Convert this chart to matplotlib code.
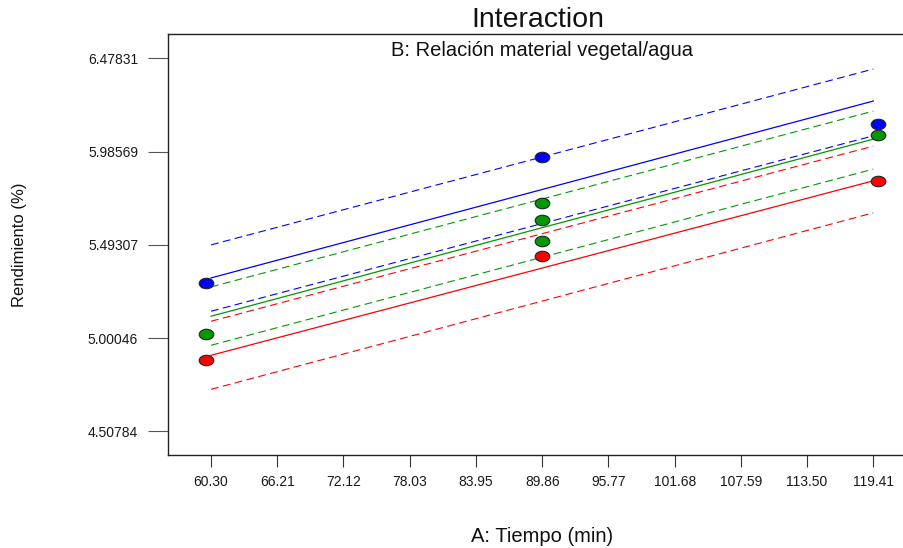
import matplotlib
matplotlib.use('Agg')
import matplotlib.pyplot as plt
from matplotlib.path import Path
from matplotlib.transforms import Affine2D, ScaledTranslation

plt.rcParams['font.family'] = ['Liberation Sans', 'DejaVu Sans']

# axis ticks
x_ticks = [60.30, 66.21, 72.12, 78.03, 83.95, 89.86, 95.77, 101.68, 107.59, 113.50, 119.41]
y_ticks = [4.50784, 5.00046, 5.49307, 5.98569, 6.47831]

# predicted lines at the ends of A (low CI, mean, high CI) for each level of B
x_ends = [60.30, 119.41]
blue_mean = [5.3181, 6.2525]
blue_lo = [5.1420, 6.0690]
blue_hi = [5.4926, 6.4217]
green_mean = [5.1156, 6.0515]
green_lo = [4.9622, 5.8929]
green_hi = [5.2705, 6.1996]
red_mean = [4.9093, 5.8310]
red_lo = [4.7295, 5.6618]
red_hi = [5.0891, 6.0145]

# design points
blue_px = [60.30, 89.86, 119.41]
blue_py = [5.2900, 5.9564, 6.1309]
green_px = [60.30, 89.86, 89.86, 89.86, 119.41]
green_py = [5.0203, 5.7131, 5.6232, 5.5122, 6.0710]
red_px = [60.30, 89.86, 119.41]
red_py = [4.8828, 5.4328, 5.8310]

c_blue = '#0000ff'
c_green = '#009a00'
c_red = '#ff0000'

fig = plt.figure(figsize=(9.04, 5.48), dpi=100)
ax = fig.add_axes([168 / 904, 1 - 455 / 548, (904 - 168) / 904, (455 - 34.3) / 548])
ax.set_xlim(56.46, 122.15)
ax.set_ylim(4.3825, 6.6052)

dash = (0, (7, 4))
for col, lo, mean, hi in [(c_blue, blue_lo, blue_mean, blue_hi),
                          (c_green, green_lo, green_mean, green_hi),
                          (c_red, red_lo, red_mean, red_hi)]:
    ax.plot(x_ends, hi, color=col, lw=0.8, ls=dash)
    ax.plot(x_ends, mean, color=col, lw=0.9)
    ax.plot(x_ends, lo, color=col, lw=0.8, ls=dash)

# elliptical marker
ell = Path.unit_circle().transformed(Affine2D().scale(1.0, 0.72))
for col, px, py in [(c_blue, blue_px, blue_py), (c_green, green_px, green_py), (c_red, red_px, red_py)]:
    for xv, yv in zip(px, py):
        shift = 0
        if xv == min(x_ticks):
            shift = -5
        elif xv == max(x_ticks):
            shift = 5
        tr = ax.transData + ScaledTranslation(shift / 100, 0, fig.dpi_scale_trans)
        ax.plot([xv], [yv], marker=ell, ms=10.5, mfc=col, mec='#222222', mew=0.8,
                ls='none', transform=tr, zorder=3, clip_on=False)

ax.set_xticks(x_ticks)
ax.set_xticklabels(['%.2f' % v for v in x_ticks])
ax.set_yticks(y_ticks)
ax.set_yticklabels(['%.5f' % v for v in y_ticks])
ax.tick_params(axis='x', length=8.5, width=0.8, pad=6, labelsize=10, color='#333333', labelcolor='#1a1a1a')
ax.tick_params(axis='y', length=14.5, width=0.8, pad=7, labelsize=10, color='#555555', labelcolor='#1a1a1a')
ax.spines['right'].set_visible(False)
for s in ['top', 'bottom', 'left']:
    ax.spines[s].set_linewidth(1.0)
    ax.spines[s].set_color('#222222')

fig.text(538 / 904, 1 - 20 / 548, 'Interaction', ha='center', va='center', fontsize=20.5, color='#111111')
fig.text(542 / 904, 1 - 50 / 548, 'B: Relación material vegetal/agua', ha='center', va='center',
         fontsize=14.5, color='#111111')
fig.text(542 / 904, 1 - 537 / 548, 'A: Tiempo (min)', ha='center', va='center', fontsize=14.5, color='#111111')
fig.text(20 / 904, 1 - 245 / 548, 'Rendimiento (%)', ha='center', va='center', rotation=90,
         fontsize=12, color='#111111')

fig.savefig('out.png', dpi=100)
